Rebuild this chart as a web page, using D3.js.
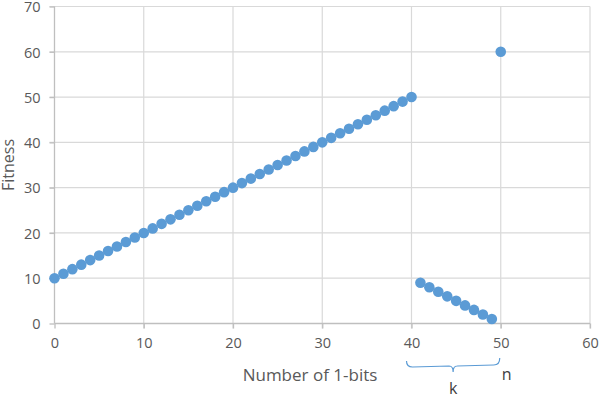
<!DOCTYPE html>
<html>
<head>
<meta charset="utf-8">
<script src="https://cdn.jsdelivr.net/npm/d3@7"></script>
<style>
  body { margin: 0; background: #fff; }
  svg { font-family: "Open Sans", "Noto Sans", sans-serif; }
</style>
</head>
<body>
<svg id="chart" width="600" height="396"></svg>
<script>
// number of 1-bits and the fitness
var onesCount = [0,1,2,3,4,5,6,7,8,9,10,11,12,13,14,15,16,17,18,19,20,
  21,22,23,24,25,26,27,28,29,30,31,32,33,34,35,36,37,38,39,40,
  41,42,43,44,45,46,47,48,49,50];
var fitness = [10,11,12,13,14,15,16,17,18,19,20,21,22,23,24,25,26,27,28,29,30,
  31,32,33,34,35,36,37,38,39,40,41,42,43,44,45,46,47,48,49,50,
  9,8,7,6,5,4,3,2,1,60];
var xTicks = [0,10,20,30,40,50,60];
var yTicks = [0,10,20,30,40,50,60,70];

var svg = d3.select("#chart");
var plotL = 54.5, plotR = 590, plotT = 6.5, plotB = 323.5;

var x = d3.scaleLinear().domain([0, 60]).range([plotL, plotR]);
var y = d3.scaleLinear().domain([0, 70]).range([plotB, plotT]);

// gridlines
svg.append("g").selectAll("line.vg").data(xTicks.slice(1)).enter()
  .append("line")
    .attr("x1", function(d){ return x(d); })
    .attr("x2", function(d){ return x(d); })
    .attr("y1", plotT).attr("y2", plotB + 5)
    .attr("stroke", "#d9d9d9").attr("stroke-width", 1.2);
svg.append("g").selectAll("line.hg").data(yTicks.slice(1)).enter()
  .append("line")
    .attr("x1", plotL - 5).attr("x2", plotR)
    .attr("y1", function(d){ return y(d); })
    .attr("y2", function(d){ return y(d); })
    .attr("stroke", "#d9d9d9").attr("stroke-width", 1.2);

// axes
var xAxis = svg.append("g").attr("transform", "translate(0," + plotB + ")")
  .call(d3.axisBottom(x).tickValues(xTicks).tickSize(5).tickPadding(9));
var yAxis = svg.append("g").attr("transform", "translate(" + plotL + ",0)")
  .call(d3.axisLeft(y).tickValues(yTicks).tickSize(5).tickPadding(9));
[xAxis, yAxis].forEach(function(a){
  a.attr("font-size", null).attr("font-family", null);
  a.select(".domain").attr("stroke", "#bfbfbf").attr("stroke-width", 1.3);
  a.selectAll(".tick line").attr("stroke", "#bfbfbf").attr("stroke-width", 1.3);
  a.selectAll(".tick text").attr("fill", "#595959")
    .style("font-size", "14.5px");
});
xAxis.select(".domain").attr("d", "M" + plotL + ",0H" + plotR);
yAxis.select(".domain").attr("d", "M0," + plotT + "V" + plotB);
yAxis.selectAll(".tick text").attr("dy", "0.36em");

// points
svg.append("g").selectAll("circle").data(onesCount).enter()
  .append("circle")
    .attr("cx", function(d){ return x(d); })
    .attr("cy", function(d, i){ return y(fitness[i]); })
    .attr("r", 5.3)
    .attr("fill", "#5b9bd5");

// axis titles
svg.append("text")
  .attr("x", 310).attr("y", 381)
  .attr("text-anchor", "middle")
  .attr("fill", "#595959").style("font-size", "17px")
  .text("Number of 1-bits");
svg.append("text")
  .attr("transform", "translate(14," + ((plotT + plotB) / 2) + ") rotate(-90)")
  .attr("text-anchor", "middle")
  .attr("fill", "#595959").style("font-size", "16px")
  .text("Fitness");

// brace marking k, with n at the end
var bx0 = x(40) - 5, bx1 = x(50) - 1, bmid = (bx0 + bx1) / 2;
svg.append("path")
  .attr("d", "M" + bx0 + ",361 Q" + bx0 + ",367 " + (bx0 + 6) + ",367 L" + (bmid - 4) + ",366"
    + " Q" + bmid + ",366 " + bmid + ",372 Q" + bmid + ",366 " + (bmid + 4) + ",366"
    + " L" + (bx1 - 6) + ",365 Q" + bx1 + ",365 " + bx1 + ",358")
  .attr("fill", "none").attr("stroke", "#5b9bd5").attr("stroke-width", 1.2);
svg.append("text")
  .attr("x", bmid).attr("y", 394).attr("text-anchor", "middle")
  .attr("fill", "#404040").style("font-size", "16px").text("k");
svg.append("text")
  .attr("x", x(50) + 6).attr("y", 380).attr("text-anchor", "middle")
  .attr("fill", "#404040").style("font-size", "16px").text("n");
</script>
</body>
</html>
